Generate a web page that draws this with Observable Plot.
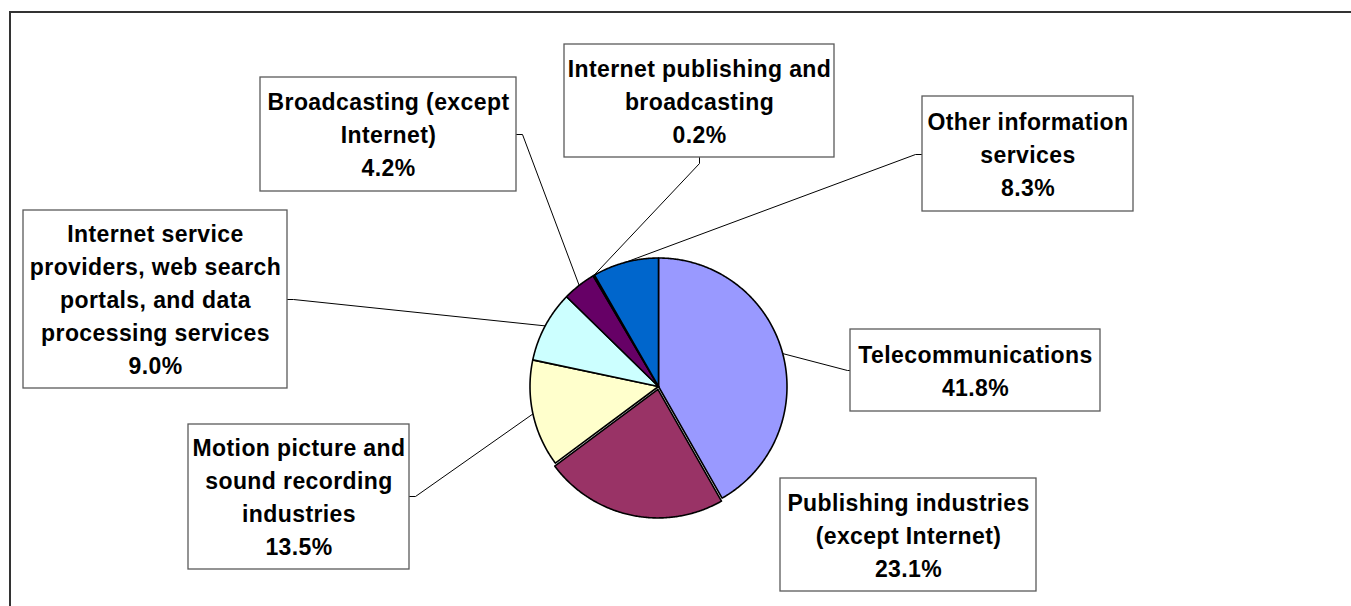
<!DOCTYPE html>
<html><head><meta charset="utf-8">
<script src="https://cdn.jsdelivr.net/npm/d3@7"></script>
<script src="https://cdn.jsdelivr.net/npm/@observablehq/plot@0.6"></script>
<style>html,body{margin:0;padding:0;background:#fff;overflow:hidden}</style>
</head><body><div id="chart"></div><script>
// ---- data ----
const sectors = [
  "Telecommunications",
  "Publishing industries (except Internet)",
  "Motion picture and sound recording industries",
  "Internet service providers, web search portals, and data processing services",
  "Broadcasting (except Internet)",
  "Internet publishing and broadcasting",
  "Other information services"
];
const shares = [41.8, 23.1, 13.5, 9.0, 4.2, 0.2, 8.3];
const labelLines = [
  ["Telecommunications"],
  ["Publishing industries", "(except Internet)"],
  ["Motion picture and", "sound recording", "industries"],
  ["Internet service", "providers, web search", "portals, and data", "processing services"],
  ["Broadcasting (except", "Internet)"],
  ["Internet publishing and", "broadcasting"],
  ["Other information", "services"]
];
const colors = ["#9999FF", "#993366", "#FFFFCC", "#CCFFFF", "#660066", "#FF8080", "#0066CC"];

// ---- layout ----
const W = 1351, H = 606;
const cx = 658, cy = 386, R = 128.5;
const explode = [0, 3, 0, 0, 0, 0, 0];
const boxes = [
  [850, 1100, 329, 411],
  [780, 1036, 478, 591],
  [188, 409, 424, 569],
  [23, 287, 210, 388],
  [260, 516, 77, 191],
  [564, 834, 44, 157],
  [922, 1133, 96, 211]
];
// leader: [boxX, boxY, elbowX, elbowY] or null
const leaders = [
  [850, 370, 847, 370],
  null,
  [409, 496, 415, 496],
  [287, 299, 293, 299],
  [516, 134, 522, 134],
  [699, 157, 699, 163],
  [922, 154, 915, 154]
];

const total = d3.sum(shares);
let acc = 0;
const slices = sectors.map((name, i) => {
  const a0 = acc / total * 2 * Math.PI; acc += shares[i];
  const a1 = acc / total * 2 * Math.PI;
  return {name, value: shares[i], color: colors[i], a0, a1, mid: (a0 + a1) / 2, off: explode[i]};
});
const px = (s, a, r) => cx + s.off * Math.sin(s.mid) + r * Math.sin(a);
const py = (s, a, r) => cy - s.off * Math.cos(s.mid) - r * Math.cos(a);

const piePts = slices.flatMap(s => {
  const n = Math.max(2, Math.ceil((s.a1 - s.a0) / (Math.PI / 360)));
  const c = {name: s.name, color: s.color, x: px(s, 0, 0), y: py(s, 0, 0)};
  const pts = [c];
  for (let k = 0; k <= n; k++) {
    const a = s.a0 + (s.a1 - s.a0) * k / n;
    pts.push({name: s.name, color: s.color, x: px(s, a, R), y: py(s, a, R)});
  }
  pts.push(c);
  return pts;
});

const leaderPts = slices.flatMap((s, i) => {
  const l = leaders[i];
  if (!l) return [];
  return [
    {name: s.name, x: l[0], y: l[1]},
    {name: s.name, x: l[2], y: l[3]},
    {name: s.name, x: px(s, s.mid, R), y: py(s, s.mid, R)}
  ];
});

const boxData = slices.map((s, i) => ({name: s.name, x1: boxes[i][0], x2: boxes[i][1], y1: boxes[i][2], y2: boxes[i][3]}));
const labelData = slices.map((s, i) => ({
  name: s.name,
  x: (boxes[i][0] + boxes[i][1]) / 2,
  y: (boxes[i][2] + boxes[i][3]) / 2 - 2,
  label: [...labelLines[i], s.value.toFixed(1) + "%"].join("\n")
}));
const frameData = [{x1: 10, x2: W + 20, y1: 12, y2: H + 20}];

const chart = Plot.plot({
  width: W, height: H, margin: 0,
  style: {fontFamily: "'Liberation Sans', Arial, sans-serif", letterSpacing: "0.4px", background: "#fff"},
  x: {domain: [0, W], range: [0, W], axis: null},
  y: {domain: [0, H], range: [0, H], axis: null},
  marks: [
    Plot.rect(frameData, {x1: "x1", x2: "x2", y1: "y1", y2: "y2", fill: "none", stroke: "#333", strokeWidth: 2}),
    Plot.line(leaderPts, {x: "x", y: "y", z: "name", stroke: "#000", strokeWidth: 1}),
    Plot.line(piePts, {x: "x", y: "y", z: "name", fill: "color", stroke: "#000", strokeWidth: 1.6, strokeLinejoin: "round"}),
    Plot.rect(boxData, {x1: "x1", x2: "x2", y1: "y1", y2: "y2", fill: "#fff", stroke: "#5a5a5a", strokeWidth: 1.3}),
    Plot.text(labelData, {x: "x", y: "y", text: "label", fontSize: 23, fontWeight: "bold", lineHeight: 33 / 23, lineAnchor: "middle", textAnchor: "middle", fill: "#000"})
  ]
});
document.getElementById("chart").appendChild(chart);
</script></body></html>
